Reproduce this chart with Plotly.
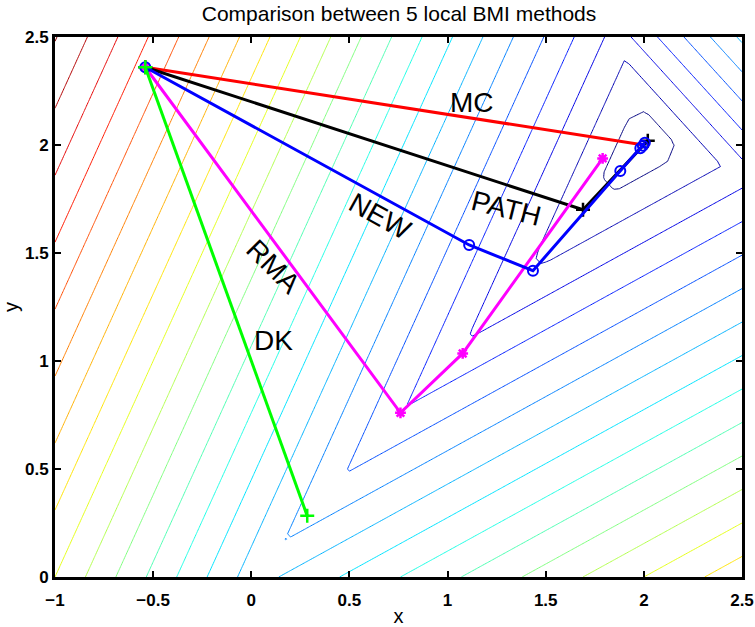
import numpy as np
import plotly.graph_objects as go

# ---------------- data ----------------
title_text = "Comparison between 5 local BMI methods"

start_x, start_y = -0.54, 2.36

mc_x = [start_x, 2.00]
mc_y = [start_y, 2.00]

path_x = [start_x, 1.69, 2.02]
path_y = [start_y, 1.70, 2.02]

new_x = [start_x, 1.11, 1.435, 1.88, 1.982, 1.995, 2.005]
new_y = [start_y, 1.537, 1.418, 1.88, 1.985, 1.997, 2.01]

rma_x = [start_x, 0.76, 1.077, 1.79]
rma_y = [start_y, 0.76, 1.035, 1.938]

dk_x = [start_x, 0.285]
dk_y = [start_y, 0.283]

label_text = ["MC", "PATH", "NEW", "RMA", "DK"]
label_x = [1.123, 1.30, 0.656, 0.112, 0.111]
label_y = [2.196, 1.707, 1.668, 1.437, 1.097]
label_angle = [0, 14, 29, 45, 0]

x_ticks = [-1, -0.5, 0, 0.5, 1, 1.5, 2, 2.5]
x_ticklabels = ["\u22121", "\u22120.5", "0", "0.5", "1", "1.5", "2", "2.5"]
y_ticks = [0, 0.5, 1, 1.5, 2, 2.5]
y_ticklabels = ["0", "0.5", "1", "1.5", "2", "2.5"]

# objective surface: max of affine pieces  a*x + b*y + c
piece_a = [-2.0, 1.0, 1.0, -0.45, 2.3, -0.435]
piece_b = [1.0, -0.45, -2.0, 1.0, 2.3, -0.435]
piece_c = [0.0, -2.975, 0.0, -2.975, -11.30, -0.137]

contour_start, contour_end, contour_step = -1.72, 4.48, 0.31

# ---------------- surface ----------------
gx = np.linspace(-1, 2.5, 141)
gy = np.linspace(0, 2.5, 101)
GX, GY = np.meshgrid(gx, gy)
Z = np.max([a * GX + b * GY + c for a, b, c in zip(piece_a, piece_b, piece_c)], axis=0)

jet = [[0.0, "rgb(0,0,128)"], [0.125, "rgb(0,0,255)"], [0.375, "rgb(0,255,255)"],
       [0.625, "rgb(255,255,0)"], [0.875, "rgb(255,0,0)"], [1.0, "rgb(128,0,0)"]]

fig = go.Figure()
fig.add_trace(go.Contour(
    x=gx, y=gy, z=Z,
    contours=dict(coloring="lines", start=contour_start, end=contour_end,
                  size=contour_step, showlabels=False),
    line=dict(width=1, smoothing=0),
    colorscale=jet, zmin=float(Z.min()), zmax=float(Z.max()),
    showscale=False, hoverinfo="skip"))

def add_series(xs, ys, color, symbol, msize, mline=2):
    fig.add_trace(go.Scatter(
        x=xs, y=ys, mode="lines+markers" if symbol else "lines",
        line=dict(color=color, width=3),
        marker=dict(symbol=symbol or "circle", size=msize, color=color,
                    line=dict(color=color, width=mline)),
        showlegend=False, cliponaxis=False))

add_series(mc_x, mc_y, "rgb(255,0,0)", None, 0)
add_series(path_x, path_y, "black", "cross-thin-open", 10, 2.5)
add_series(rma_x, rma_y, "rgb(255,0,255)", "asterisk-open", 9, 2.5)
add_series(new_x, new_y, "rgb(0,0,255)", "circle-open", 10)
add_series(dk_x, dk_y, "rgb(0,255,0)", "cross-thin-open", 10, 2.5)

for t, lx, ly, ang in zip(label_text, label_x, label_y, label_angle):
    fig.add_annotation(x=lx, y=ly, text=t, showarrow=False, textangle=ang,
                       xanchor="center", yanchor="middle",
                       font=dict(family="Liberation Sans, Arial", size=28, color="black"))

axis_common = dict(showline=True, linewidth=3, linecolor="black", mirror="ticks",
                   ticks="inside", ticklen=6, tickwidth=2, tickcolor="black",
                   showgrid=False, zeroline=False, automargin=False,
                   tickfont=dict(family="Liberation Sans, Arial", size=17, color="black",
                                 weight="bold"))

fig.update_layout(
    width=755, height=627,
    margin=dict(l=55, r=13, t=37, b=50),
    paper_bgcolor="white", plot_bgcolor="white",
    title=dict(text=title_text, x=0.5285, xanchor="center", y=1 - 14 / 627,
               yanchor="middle", yref="container",
               font=dict(family="Liberation Sans, Arial", size=21, color="black")),
    xaxis=dict(range=[-1, 2.5], tickvals=x_ticks, ticktext=x_ticklabels,
               ticklabelstandoff=6,
               title=dict(text="x", standoff=6,
                          font=dict(family="Liberation Sans, Arial", size=20, color="black")),
               **axis_common),
    yaxis=dict(range=[0, 2.5], tickvals=y_ticks, ticktext=y_ticklabels,
               title=dict(text="y", standoff=4,
                          font=dict(family="Liberation Sans, Arial", size=20, color="black")),
               **axis_common),
)

fig.write_html("out.html")
